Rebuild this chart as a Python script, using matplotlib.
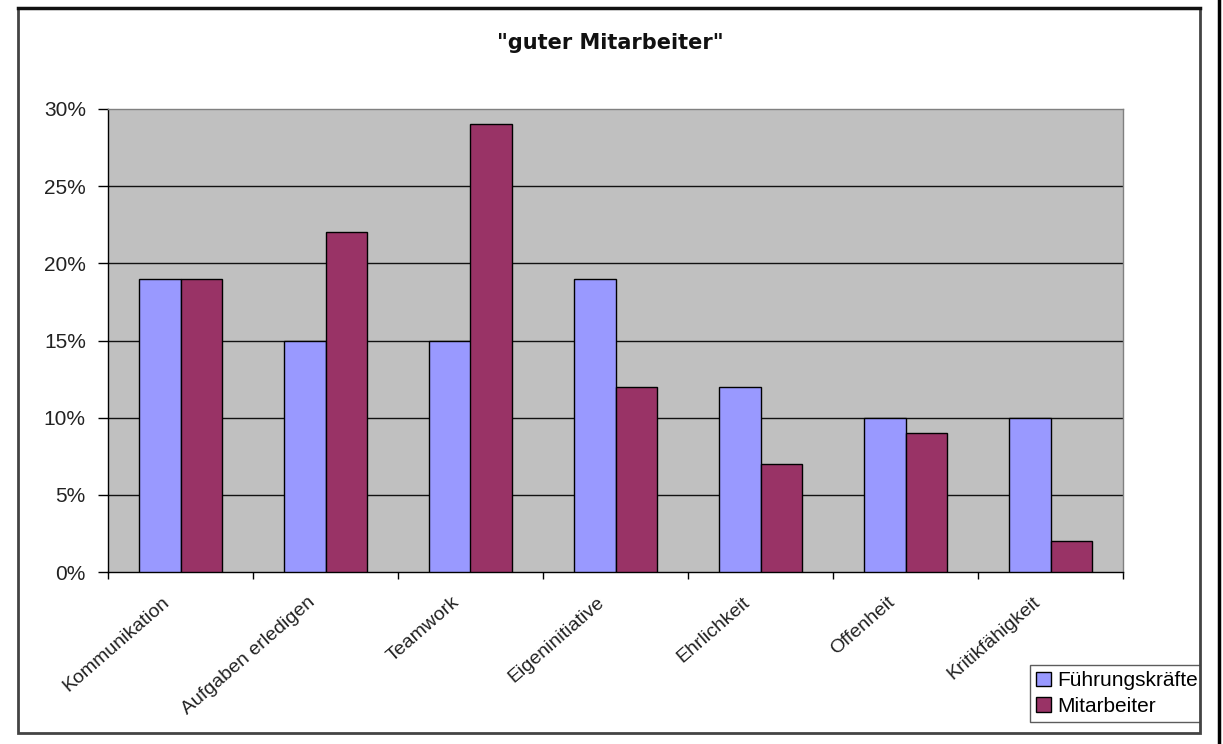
import numpy as np
import matplotlib
matplotlib.use("Agg")
import matplotlib.pyplot as plt
from matplotlib.patches import Rectangle
from matplotlib.lines import Line2D
from matplotlib.ticker import FixedLocator, NullFormatter
from matplotlib.transforms import ScaledTranslation

categories = ["Kommunikation", "Aufgaben erledigen", "Teamwork", "Eigeninitiative",
              "Ehrlichkeit", "Offenheit", "Kritikfähigkeit"]
fuehrung = [19, 15, 15, 19, 12, 10, 10]
mitarbeiter = [19, 22, 29, 12, 7, 9, 2]
series_names = ["Führungskräfte", "Mitarbeiter"]
yticks = [0, 5, 10, 15, 20, 25, 30]
ytick_labels = ["0%", "5%", "10%", "15%", "20%", "25%", "30%"]
title = '"guter Mitarbeiter"'

plt.rcParams['font.family'] = ['Liberation Sans', 'DejaVu Sans']

W, H = 1223, 744
fig = plt.figure(figsize=(W / 100, H / 100), dpi=100)
fig.patch.set_facecolor('white')

def fx(px):
    return px / W

def fy(py):
    return 1 - py / H

ax = fig.add_axes([fx(108), fy(572), fx(1123) - fx(108), fy(109) - fy(572)])
ax.set_facecolor('#C0C0C0')

x = np.arange(len(categories))
w = 0.286
ax.bar(x - w / 2, fuehrung, w, color='#9999FF', edgecolor='black', linewidth=1.0,
       label=series_names[0], zorder=3)
ax.bar(x + w / 2, mitarbeiter, w, color='#993366', edgecolor='black', linewidth=1.0,
       label=series_names[1], zorder=3)

ax.set_xlim(-0.5, len(categories) - 0.5)
ax.set_ylim(0, 30)

ax.set_yticks(yticks)
ax.set_yticklabels(ytick_labels, fontsize=15, color='#222222')
for yv in yticks[1:-1]:
    ax.axhline(yv, color='#111111', lw=1.0, zorder=1)

ax.xaxis.set_major_locator(FixedLocator(np.arange(-0.5, len(categories), 1.0)))
ax.xaxis.set_major_formatter(NullFormatter())
ax.tick_params(axis='x', which='major', direction='out', length=5, width=1, color='black')
ax.tick_params(axis='y', direction='out', length=7, width=1, color='black', pad=9)

offset = ScaledTranslation(-13 / 100, -28 / 100, fig.dpi_scale_trans)
for xi, cat in zip(x, categories):
    ax.text(xi, 0, cat, transform=ax.get_xaxis_transform() + offset,
            rotation=41, rotation_mode='anchor', ha='right', va='center',
            fontsize=14, color='#222222')

ax.spines['left'].set_color('black')
ax.spines['bottom'].set_color('black')
ax.spines['top'].set_color('#808080')
ax.spines['right'].set_color('#808080')
for s in ax.spines.values():
    s.set_linewidth(1.0)

fig.text(fx(610), fy(43), title, ha='center', va='center', fontsize=15,
         fontweight='bold', family=['DejaVu Sans'], color='#111111')

leg = fig.legend(loc='upper left', bbox_to_anchor=(fx(1030), fy(665)),
                 fontsize=15, frameon=True, fancybox=False, edgecolor='#333333',
                 handlelength=0.7, handleheight=0.7, handletextpad=0.3,
                 borderpad=0.3, labelspacing=0.3, borderaxespad=0)
leg.get_frame().set_linewidth(1.0)

# mask right of frame and draw frames
fig.add_artist(Rectangle((fx(1201), 0), fx(1217) - fx(1201), 1, transform=fig.transFigure,
                         facecolor='white', edgecolor='none', zorder=10))
fig.add_artist(Rectangle((fx(18), fy(733)), fx(1200) - fx(18), fy(8) - fy(733),
                         transform=fig.transFigure, fill=False, edgecolor='#444444',
                         linewidth=2.0, zorder=11))
fig.add_artist(Line2D([fx(18), fx(1200)], [fy(8), fy(8)], transform=fig.transFigure,
                      color='#111111', lw=2.5, zorder=12))
fig.add_artist(Line2D([fx(1219), fx(1219)], [0, 1], transform=fig.transFigure,
                      color='black', lw=2.5, zorder=12))

fig.savefig('out.png', dpi=100, facecolor='white')
